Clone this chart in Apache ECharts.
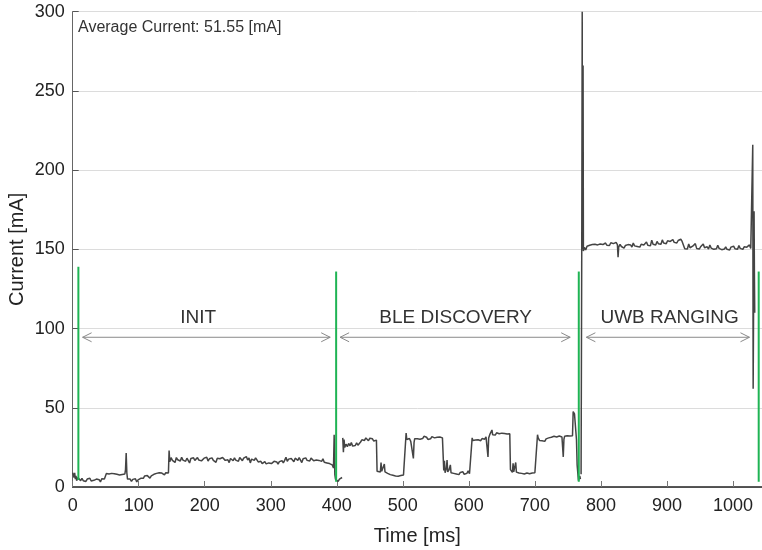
<!DOCTYPE html>
<html>
<head>
<meta charset="utf-8">
<script src="https://cdn.jsdelivr.net/npm/echarts@6/dist/echarts.min.js"></script>
<style>html,body{margin:0;padding:0;background:#fff}#chart{width:762px;height:550px}</style>
</head>
<body>
<div id="chart"></div>
<script>
// ---- data ----
const avgLabel = 'Average Current: 51.55 [mA]';
const xTicks = [0, 100, 200, 300, 400, 500, 600, 700, 800, 900, 1000];
const yTicks = [0, 50, 100, 150, 200, 250, 300];

// [time ms, current mA]
const initTrace = [
  [0,9],[1,10],[2,6],[3,9],[4,5],[5,7],[6,4],[8,6],[10,5],[12,4],[14,5.5],[16,4],[18,5],[20,3.5],[22,5],[24,4],[26,5.5],[28,3.8],[30,5],[32,4.2],[34,3],[36,5],[38,4],[40,4.6],[42,3.2],[44,5.2],[46,4],[48,5],[50,4.5],
  [51,8.5],[53,7.5],[55,8.2],[57,7],[59,8.6],[61,7.8],[63,8.4],[65,7.2],[67,8],[69,8.8],[71,7.6],[73,8.3],[75,7.9],[77,9],[79,8.2],[80,11],[81,21.5],[82,9],[83,5],[85,4.2],[87,5],[89,3.5],[91,4.8],[93,3.8],[95,5.2],[97,3.2],[99,4.5],[101,4],[103,5.5],[105,6.5],[107,5.5],[109,7],[111,6],[113,7.2],[115,6.4],[117,5.6],[119,7],[121,6.6],[123,8],[125,7.2],[127,8.6],[129,8.2],[131,9],[133,7.8],[135,8.8],[137,8.4],[139,7.6],[141,9],[143,8.2],[145,8.8],
  [146,23],[147,16],[149,18.5],[151,16.8],[153,17.8],[155,15.5],[157,18.6],[159,17.2],[161,18],[163,16.4],[165,18.8],[167,17],[169,17.8],[171,16.2],[173,18.2],[175,17.4],[177,15.2],[179,18],[181,17.6],[183,18.4],[185,16.8],[187,17.8],[189,18.6],[191,17],[193,18],[195,16.5],[197,17.6],[199,18.2],[201,17.2],[203,18.8],[205,16.4],[207,17.8],[209,17.2],[211,18.4],[213,16.8],[215,17.6],[217,15.6],[219,18.2],[221,17],[223,17.8],[225,16.6],[227,18.6],[229,17.4],[231,16.8],[233,18],[235,17.2],[237,15.4],[239,18],[241,17.6],[243,16.6],[245,18.4],[247,17],[249,17.8],[251,16.2],[253,18.6],[255,17.4],[257,16.6],[259,18.2],[261,17.6],[263,19.2],[265,17],[267,18.4],[269,15.2],[271,17.6],[273,18.8],[275,16.8],[277,18.4],[279,17.2],
  [281,15.8],[283,15],[285,16.2],[287,14.8],[289,15.6],[291,16],[293,14.6],[295,15.8],[297,15.2],[299,16.4],[301,14.8],[303,15.6],[305,16.2],[307,15],[309,15.8],[311,14.4],[313,16],[315,15.4],[317,16.6],[319,15.2],[321,16.8],[323,18.8],[325,16.2],[327,17.6],[329,16.6],[331,18],[333,17.2],[335,16],[337,18.2],[339,17.4],[341,16.8],[343,18.6],[345,17],[347,15.4],[349,17.8],[351,17.2],[353,18.4],[355,16.8],[357,17.6],[359,16.4],[361,18.2],[363,17.4],[365,16.6],[367,17.8],[369,17],[371,18],[373,16.8],[375,17.4],[377,16.2],[379,17.8],[381,15.6],[383,16.8],[385,15.2],[387,16.4],[389,14.8],[391,15.6],[393,14],[395,12],[396,33],[397,8],[398,5],[400,4.5],[402,3.5],[404,5],[406,4],[408,6]
];
const bleTrace = [
  [409,31],[410,22],[411,30],[412,25],[414,27],[416,25.5],[418,27.5],[420,26],[422,28],[424,25.8],[426,27],[428,26.2],[430,27.8],[432,26.4],[434,27.2],[436,28.4],[438,29.8],[440,30.6],[442,29.4],[444,31],[446,30],[448,29.2],[450,30.8],[452,29.6],[454,30.4],[456,29],[458,30.2],[460,29.6],
  [461,10],[462,9],[464,11],[466,9.5],[467,15.5],[468,10],[470,9],[472,14.5],[473,9.5],[475,10.4],[477,8.6],[479,9],[481,7.8],[483,8.6],[485,7.4],[487,8.2],[489,7],[491,8],[493,6.8],[495,7.8],[497,7.2],[499,8.4],[501,7.6],[503,8],
  [505,34],[506,30],[508,29.4],[510,30.6],[512,28.8],[514,29.6],[516,18],[517,28],[518,30.5],[520,31.2],[522,30.4],[524,31.6],[526,30.2],[528,31],[530,30.6],[532,32],[534,30.8],[536,31.4],[538,30],[540,31.2],[542,30.4],[544,31.8],[546,30.6],[548,31],[550,30.2],[552,31.4],[554,30.8],[556,31.6],[558,30.4],[560,31],
  [562,10.5],[563,16.5],[564,9],[566,12],[567,17],[568,9.5],[570,10.8],[572,14],[573,9],[575,10.2],[577,8.6],[579,9.4],[581,8.2],[583,9],[585,7.8],[587,9.2],[589,8.4],[591,9.6],[593,8],[595,9],[597,8.6],[599,10.2],[601,8.4],[603,9],
  [605,31],[606,29.4],[608,30.2],[610,29.6],[612,30.8],[614,29.8],[616,30.4],[618,29.2],[620,30.6],[622,31.2],[624,30.2],[626,31.6],[628,30.4],[629,19],[630,31],[632,33.4],[634,32.6],[635,36],[636,33],[638,33.8],[640,32.8],[642,34.2],[644,33],[646,33.6],[648,32.4],[650,34],[652,33.2],[654,33.8],[656,32.8],[658,33.4],[660,33],[662,33.6],
  [663,11],[664,10],[666,9.2],[667,15],[668,9.6],[670,10.4],[671,15.5],[672,9.4],[674,10],[676,8.8],[678,9.6],[680,8.6],[682,9.4],[684,8.2],[686,9.2],[688,8.8],[690,9.6],[692,8.4],[694,9.2],[696,8.8],[698,9.8],[700,9],[702,10],
  [704,33],[705,31],[707,29.4],[709,30.6],[711,29.2],[713,30],[715,28.8],[717,30.4],[719,29.6],[721,31],[723,30.2],[725,31.4],[727,30.6],[729,32],[731,30.8],[733,31.6],[735,30.4],[737,32.2],[739,31],[741,31.6],[743,19],[744,30],[745,32],[747,31.2],[749,32.4],[751,31.6],[753,32.2],[755,31.8],[757,32.4],[758,47.6],[760,46.2],[762,45.8],[763,30],[764,14],[766,4],[768,7],[769,5]
];
const uwbTrace = [
  [770,8],[771,150],[771.7,300],[772,200],[772.5,150],[773,266],[773.5,149],
  [775,151.2],[777,149.6],[779,152],[781,151],[783,152.6],[785,151.4],[787,153],[789,151.8],[791,153.2],[793,152],[795,152.8],[797,151.6],[799,153.4],[801,152.2],[803,153],[805,152],[807,154],[809,152.6],[811,153.4],[813,152.4],[815,154.2],[817,153],[819,153.6],[821,152.6],[823,154.4],[825,153],[826,145],[827,151.6],[829,153.2],[831,151.8],[833,152.6],[835,150.8],[837,152.4],[839,151.6],[841,153],[843,152],[845,152.8],[847,151.4],[849,154],[851,152.2],[853,153],[855,151.8],[857,152.6],[859,151.4],[861,153.2],[863,152],[865,152.8],[867,151.6],[869,154.6],[871,152.6],[873,153.4],[875,152.2],[877,155.8],[879,153.2],[881,154],[883,152.8],[885,155],[887,153.6],[889,154.4],[891,153.2],[893,156],[895,154],[897,154.8],[899,153.6],[901,155.4],[903,154.2],[905,155],[907,153.8],[909,156.2],[911,154.4],[913,155.2],[915,154],[917,155.6],[919,154.6],[921,156.4],[923,155],[925,155.8],
  [927,150.4],[929,151.6],[931,150.2],[933,153.4],[935,151],[937,150.4],[939,152],[941,150.8],[943,153.6],[945,150.6],[947,151.4],[949,150.2],[951,151.6],[953,150.6],[955,153.4],[957,151],[959,150.4],[961,151.6],[963,150.2],[965,152.8],[967,150.8],[969,151.4],[971,150],[973,151.2],[975,150.4],[977,152.6],[979,150.6],[981,151.2],[983,149.8],[985,150.8],[987,150.2],[989,151.6],[991,150],[993,150.8],[995,149.6],[997,151.4],[999,150.2],[1001,152],[1003,150.4],[1005,151],[1007,150],[1009,152.4],[1011,150.6],[1013,151.2],[1015,150],[1017,151.6],[1019,150.4],[1021,151.4],[1023,150.2],[1025,152.8],[1027,150.6],[1029,151],
  [1030,216],[1030.6,62],[1032,174],[1032.5,135],[1033,110]
];

// phase boundary markers (green)
const markerTimes = [8.6, 399, 766.5, 1039];
const markerBottoms = [4.4, 3.3, 3.3, 3.3];
const markerTops = [139, 136, 136, 136];

// phase annotations
const phaseNames = ['INIT', 'BLE DISCOVERY', 'UWB RANGING'];
const arrowStarts = [15, 405, 778];
const arrowEnds = [390, 753.5, 1025];
const labelCenters = [190, 580, 904];
const arrowLevel = 94.5;
const labelLevel = 107;

// ---- chart ----
const FONT = 'Liberation Sans, Arial, Helvetica, sans-serif';
const chart = echarts.init(document.getElementById('chart'), null, {renderer: 'canvas'});

const markerData = markerTimes.map((t, i) => [t, markerBottoms[i], markerTops[i]]);
const phaseData = phaseNames.map((n, i) => [arrowStarts[i], arrowEnds[i], labelCenters[i]]);

const traceStyle = {color: '#444444', width: 1.5};
function traceSeries(d) {
  return {type: 'line', data: d, showSymbol: false, symbol: 'none', sampling: 'none',
    lineStyle: traceStyle, itemStyle: {color: '#444444'}, z: 3, animation: false};
}

chart.setOption({
  animation: false,
  backgroundColor: '#fff',
  grid: {left: 72.7, right: 0, top: 11.7, bottom: 63, containLabel: false, outerBoundsMode: 'none'},
  xAxis: {
    type: 'value', min: 0, max: 1044, interval: 100,
    name: 'Time [ms]', nameLocation: 'middle', nameGap: 39, nameMoveOverlap: false,
    nameTextStyle: {fontFamily: FONT, fontSize: 20, color: '#222'},
    axisLine: {show: true, onZero: false, lineStyle: {color: '#222', width: 1.5}},
    axisTick: {show: true, inside: true, length: 6, lineStyle: {color: '#777'}},
    axisLabel: {fontFamily: FONT, fontSize: 18, color: '#222', margin: 10, showMaxLabel: false,
      formatter: v => (xTicks.indexOf(v) >= 0 ? String(v) : '')},
    splitLine: {show: false}
  },
  yAxis: {
    type: 'value', min: 0, max: 300, interval: 50,
    name: 'Current [mA]', nameLocation: 'middle', nameGap: 45, nameMoveOverlap: false,
    nameTextStyle: {fontFamily: FONT, fontSize: 20, color: '#222'},
    axisLine: {show: true, lineStyle: {color: '#666', width: 1}},
    axisTick: {show: true, inside: true, length: 6, lineStyle: {color: '#555'}},
    axisLabel: {fontFamily: FONT, fontSize: 18, color: '#222', margin: 8,
      formatter: v => (yTicks.indexOf(v) >= 0 ? String(v) : '')},
    splitLine: {show: true, lineStyle: {color: '#dcdcdc', width: 1}}
  },
  graphic: [{
    type: 'text', left: 78, top: 20,
    style: {text: avgLabel, font: '16px ' + FONT, fill: '#333'}
  }],
  series: [
    traceSeries(initTrace),
    traceSeries(bleTrace),
    traceSeries(uwbTrace),
    {
      type: 'custom', data: phaseData, z: 2, animation: false,
      renderItem: function (params, api) {
        const a = api.coord([api.value(0), arrowLevel]);
        const b = api.coord([api.value(1), arrowLevel]);
        const c = api.coord([api.value(2), labelLevel]);
        const st = {stroke: '#8a8a8a', lineWidth: 1, fill: null};
        const ah = 9, aw = 4.5;
        return {type: 'group', children: [
          {type: 'line', shape: {x1: a[0], y1: a[1], x2: b[0], y2: b[1]}, style: st},
          {type: 'polyline', shape: {points: [[a[0] + ah, a[1] - aw], [a[0], a[1]], [a[0] + ah, a[1] + aw]]}, style: st},
          {type: 'polyline', shape: {points: [[b[0] - ah, b[1] - aw], [b[0], b[1]], [b[0] - ah, b[1] + aw]]}, style: st},
          {type: 'text', x: c[0], y: c[1], style: {text: phaseNames[params.dataIndex], fill: '#333',
            font: '19px ' + FONT, align: 'center', verticalAlign: 'middle'}}
        ]};
      }
    },
    {
      type: 'custom', data: markerData, z: 5, animation: false,
      renderItem: function (params, api) {
        const p0 = api.coord([api.value(0), api.value(1)]);
        const p1 = api.coord([api.value(0), api.value(2)]);
        return {type: 'line', shape: {x1: p0[0], y1: p0[1], x2: p1[0], y2: p1[1]},
          style: {stroke: '#1fb454', lineWidth: 2}};
      }
    }
  ]
});
</script>
</body>
</html>
